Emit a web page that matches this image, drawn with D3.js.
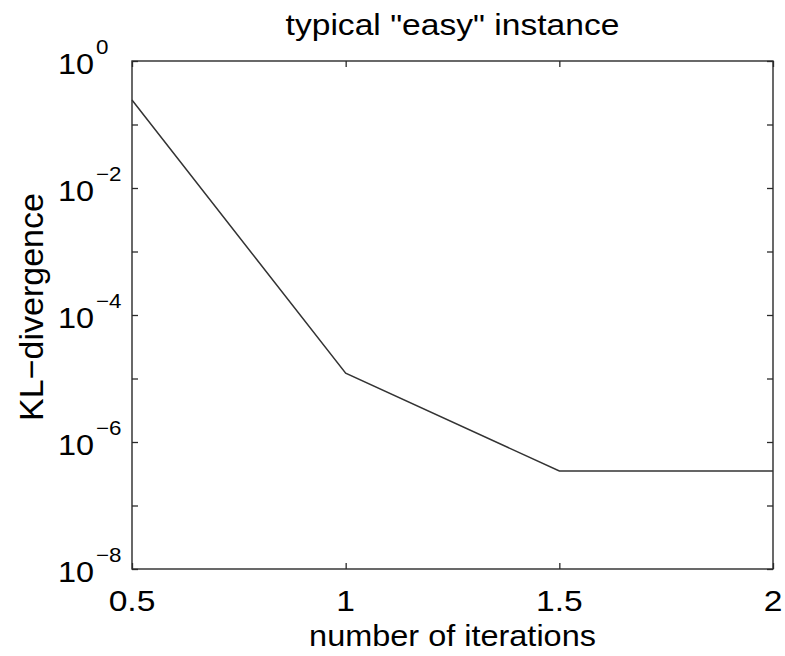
<!DOCTYPE html>
<html>
<head>
<meta charset="utf-8">
<script src="https://cdn.jsdelivr.net/npm/d3@7"></script>
<style>
  html, body { margin: 0; padding: 0; background: #fff; }
  svg text { font-family: "Liberation Sans", Arial, sans-serif; fill: #000; }
</style>
</head>
<body>
<svg id="chart" width="785" height="656"></svg>
<script>
// ---- data ----
const iterations = [0.5, 1, 1.5, 2];
const klDivergence = [0.243, 1.21e-5, 3.5e-7, 3.5e-7];
const xTickValues = [0.5, 1, 1.5, 2];
const xTickLabels = ["0.5", "1", "1.5", "2"];
const yMajorTicks = [1, 1e-1, 1e-2, 1e-3, 1e-4, 1e-5, 1e-6, 1e-7, 1e-8];
const yLabelTicks = [1, 1e-2, 1e-4, 1e-6, 1e-8];
const yLabelExponents = ["0", "\u22122", "\u22124", "\u22126", "\u22128"];
const titleText = 'typical "easy" instance';
const xTitle = "number of iterations";
const yTitle = "KL\u2212divergence";

// ---- layout ----
const W = 785, H = 656;
const L = 132, R = 773, T = 61, B = 569;
const svg = d3.select("#chart");
const sx = 1.12; // horizontal stretch of text as in reference

const x = d3.scaleLinear().domain([0.5, 2]).range([L, R]);
const y = d3.scaleLog().domain([1e-8, 1]).range([B, T]);

const axisColor = "#2a2a2a";

// frame
svg.append("rect")
  .attr("x", L).attr("y", T).attr("width", R - L).attr("height", B - T)
  .attr("fill", "none").attr("stroke", axisColor).attr("stroke-width", 1.4);

function styleAxis(g) {
  g.select(".domain").remove();
  g.selectAll(".tick line").attr("stroke", axisColor).attr("stroke-width", 1.3);
  g.selectAll(".tick text").remove();
}

svg.append("g").attr("transform", `translate(${L},0)`)
  .call(d3.axisLeft(y).tickValues(yMajorTicks).tickSize(-6).tickFormat(""))
  .call(styleAxis);
svg.append("g").attr("transform", `translate(${R},0)`)
  .call(d3.axisRight(y).tickValues(yMajorTicks).tickSize(-6).tickFormat(""))
  .call(styleAxis);
svg.append("g").attr("transform", `translate(0,${T})`)
  .call(d3.axisTop(x).tickValues(xTickValues).tickSize(-6).tickFormat(""))
  .call(styleAxis);
svg.append("g").attr("transform", `translate(0,${B})`)
  .call(d3.axisBottom(x).tickValues(xTickValues).tickSize(-6).tickFormat(""))
  .call(styleAxis);

// x tick labels
xTickValues.forEach((v, i) => {
  svg.append("text")
    .attr("transform", `translate(${x(v)},${B + 42}) scale(${sx},1)`)
    .attr("text-anchor", "middle")
    .attr("font-size", 30)
    .text(xTickLabels[i]);
});

// y tick labels (10 with superscript)
yLabelTicks.forEach((v, i) => {
  const yy = y(v);
  svg.append("text")
    .attr("transform", `translate(94,${yy + 12.5}) scale(${sx},1)`)
    .attr("text-anchor", "end")
    .attr("font-size", 29)
    .text("10");
  svg.append("text")
    .attr("transform", `translate(96,${yy - 7}) scale(${sx},1)`)
    .attr("text-anchor", "start")
    .attr("font-size", 20)
    .text(yLabelExponents[i]);
});

// line
const line = d3.line().x((d, i) => x(iterations[i])).y(d => y(d));
svg.append("path")
  .datum(klDivergence)
  .attr("d", line)
  .attr("fill", "none")
  .attr("stroke", "#333")
  .attr("stroke-width", 1.5);

// title
svg.append("text")
  .attr("transform", `translate(${(L + R) / 2},35) scale(${sx},1)`)
  .attr("text-anchor", "middle")
  .attr("font-size", 30)
  .text(titleText);

// x title
svg.append("text")
  .attr("transform", `translate(${(L + R) / 2},646) scale(${sx},1)`)
  .attr("text-anchor", "middle")
  .attr("font-size", 29)
  .text(xTitle);

// y title
svg.append("text")
  .attr("transform", `translate(43,${(T + B) / 2 - 8}) rotate(-90)`)
  .attr("text-anchor", "middle")
  .attr("font-size", 34)
  .text(yTitle);
</script>
</body>
</html>
